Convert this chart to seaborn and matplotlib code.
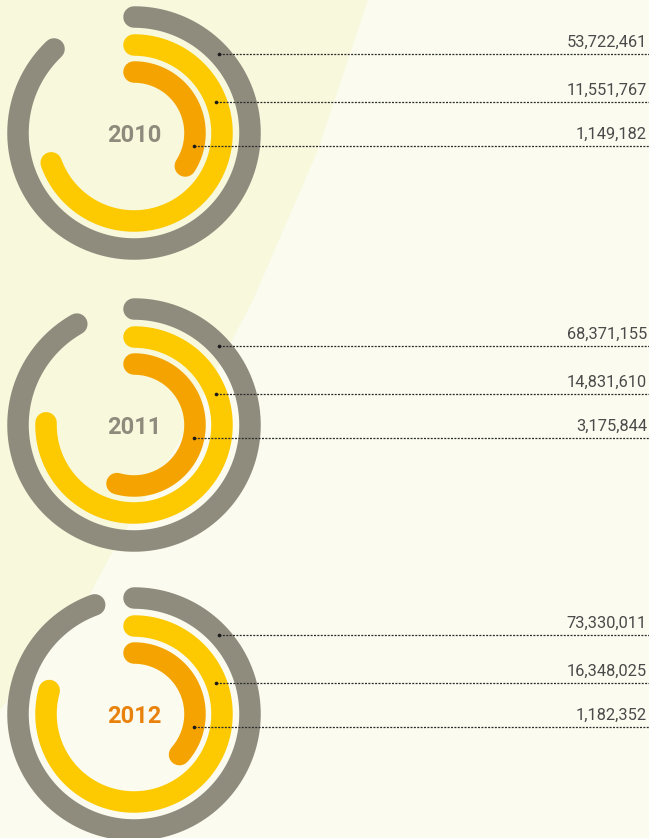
import numpy as np
import pandas as pd
import matplotlib
matplotlib.use("Agg")
import matplotlib.pyplot as plt
import seaborn as sns

# ---------------- data ----------------
years = ["2010", "2011", "2012"]
outer_values = [53722461, 68371155, 73330011]
middle_values = [11551767, 14831610, 16348025]
inner_values = [1149182, 3175844, 1182352]
# arc sweep (share of a full turn) as drawn in the reference
outer_sweep = [0.879, 0.918, 0.945]
middle_sweep = [0.695, 0.754, 0.793]
inner_sweep = [0.341, 0.545, 0.366]

# ---------------- style ----------------
W, H, DPI = 649, 838, 100
BG = "#fbfcef"
BAND = "#f7f8dc"
GREY = "#8f8c7e"
YELLOW = "#fdc900"
ORANGE = "#f5a300"
year_colors = ["#8e8b7d", "#8e8b7d", "#e8820c"]
centers_y = [133, 425, 714]
center_x = 134
ring_r = [116, 88, 61]
ring_w_px = 21.5
ring_colors = [GREY, YELLOW, ORANGE]
leader_dy = [-79, -31, 13]
R_AX = 132

sns.set_style("white")
plt.rcParams["font.family"] = ["Roboto", "DejaVu Sans"]

fig = plt.figure(figsize=(W / DPI, H / DPI), dpi=DPI, facecolor=BG)

# background with light band
bg = fig.add_axes([0, 0, 1, 1], zorder=0)
bg.set_xlim(0, W)
bg.set_ylim(H, 0)
bg.axis("off")
bg.add_patch(plt.Rectangle((0, 0), W, H, color=BG, zorder=0))
band_x = [0, 368, 318, 253, 180, 108, 87, 0]
band_y = [0, 0, 150, 300, 440, 560, 600, 710]
bg.fill(band_x, band_y, color=BAND, zorder=1, lw=0)

lw_pt = ring_w_px * 72 / DPI

for i, yr in enumerate(years):
    cy = centers_y[i]
    ax = fig.add_axes([(center_x - R_AX) / W, 1 - (cy + R_AX) / H,
                       2 * R_AX / W, 2 * R_AX / H], projection="polar", zorder=2)
    ax.set_theta_zero_location("N")
    ax.set_theta_direction(-1)
    ax.set_ylim(0, R_AX)
    ax.axis("off")
    ax.patch.set_alpha(0)
    sweeps = [outer_sweep[i], middle_sweep[i], inner_sweep[i]]
    for r, sw, col in zip(ring_r, sweeps, ring_colors):
        theta = np.linspace(0, 2 * np.pi * sw, 300)
        df = pd.DataFrame({"theta": theta, "r": np.full_like(theta, r)})
        sns.lineplot(data=df, x="theta", y="r", ax=ax, color=col, linewidth=lw_pt,
                     solid_capstyle="round", sort=False, estimator=None, clip_on=False)
    ax.set_xlabel("")
    ax.set_ylabel("")

# overlay for leaders and labels
ov = fig.add_axes([0, 0, 1, 1], zorder=5)
ov.set_xlim(0, W)
ov.set_ylim(H, 0)
ov.axis("off")
ov.patch.set_alpha(0)

for i, yr in enumerate(years):
    cy = centers_y[i]
    vals = [outer_values[i], middle_values[i], inner_values[i]]
    for r, dy, v in zip(ring_r, leader_dy, vals):
        y = cy + dy
        x0 = center_x + np.sqrt(r ** 2 - dy ** 2)
        ov.plot([x0, W], [y, y], color="#2a2a2a", lw=0.9, linestyle=(0, (1.6, 1.1)))
        ov.plot([x0], [y], marker="o", ms=2.6, color="#1a1a1a", mew=0)
        ov.text(647, y - 7.5, f"{v:,}", ha="right", va="baseline",
                fontsize=11.8, color="#4a4a4a")
    ov.text(center_x + 0.5, cy + 2, yr, ha="center", va="center", fontsize=17,
            fontweight="bold", color=year_colors[i])

fig.savefig("out.png", dpi=DPI, facecolor=BG)
